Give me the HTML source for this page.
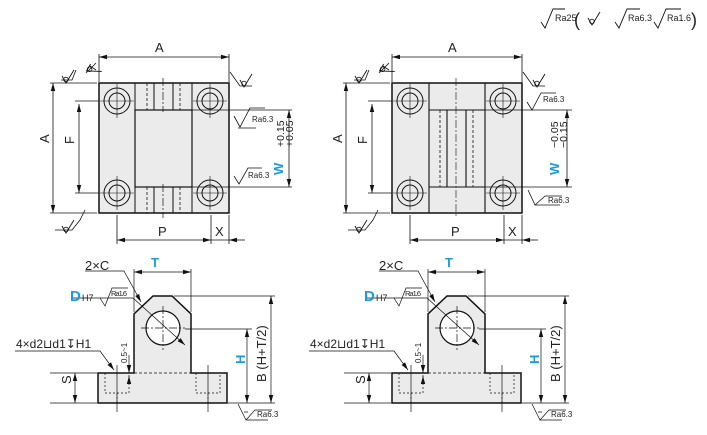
<!DOCTYPE html>
<html><head><meta charset="utf-8"><style>
html,body{margin:0;padding:0;background:#fff}
svg{display:block}
text{font-family:"Liberation Sans",sans-serif;fill:#222}
.t{font-size:13px}.s{font-size:9px}.b{fill:#1a9be0;font-weight:bold}
</style></head><body>
<svg width="707" height="435" viewBox="0 0 707 435" xmlns="http://www.w3.org/2000/svg" stroke-linecap="butt">
<defs>
<marker id="ar" markerWidth="8" markerHeight="6" refX="8" refY="3" orient="auto-start-reverse" markerUnits="userSpaceOnUse"><path d="M0,0.8 L8,3 L0,5.2z" fill="#111"/></marker>
<g id="rough"><path d="M0,0 L4,7 L12,-6" fill="none" stroke="#111" stroke-width="0.9"/><circle cx="4" cy="3.5" r="2.3" fill="none" stroke="#111" stroke-width="0.8"/></g>
</defs>

<g stroke="#111" stroke-width="0.9" fill="none">
<path d="M541,22 L545,28 L553,9 L565,9"/>
<path d="M615,22 L619,28 L627,9 L640,9"/>
<path d="M654,22 L658,28 L666,9 L681,9"/>
</g>
<use href="#rough" x="588" y="18"/>
<text x="555" y="21" class="s">Ra25</text>
<text x="574" y="26" style="font-size:18px">(</text>
<text x="628" y="21" class="s">Ra6.3</text>
<text x="667" y="21" class="s">Ra1.6</text>
<text x="691" y="26" style="font-size:18px">)</text>

<g id="tv">
<g stroke="#111" stroke-width="0.8" fill="none">
<line x1="99" y1="57" x2="229" y2="57" marker-start="url(#ar)" marker-end="url(#ar)"/>
<line x1="99" y1="82" x2="99" y2="54"/><line x1="229" y1="82" x2="229" y2="54"/>
<line x1="53" y1="83" x2="53" y2="213" marker-start="url(#ar)" marker-end="url(#ar)"/>
<line x1="50" y1="83" x2="97" y2="83"/><line x1="50" y1="213" x2="97" y2="213"/>
<line x1="79" y1="104" x2="79" y2="193" marker-start="url(#ar)" marker-end="url(#ar)"/>
<line x1="75" y1="101" x2="102" y2="101"/><line x1="75" y1="193" x2="102" y2="193"/>
<line x1="117" y1="240" x2="211" y2="240" marker-start="url(#ar)" marker-end="url(#ar)"/>
<line x1="117" y1="215" x2="117" y2="244"/><line x1="211" y1="215" x2="211" y2="244"/><line x1="229" y1="215" x2="229" y2="244"/>
<line x1="211" y1="240" x2="229" y2="240"/>
<line x1="229" y1="240" x2="245" y2="240" marker-start="url(#ar)"/>
</g>
<text x="155" y="52" class="t">A</text>
<text x="50" y="152" class="t" transform="rotate(-90 45 148)">A</text>
<text x="74" y="152" class="t" transform="rotate(-90 70 148)">F</text>
<text x="158" y="236" class="t">P</text>
<text x="215" y="236" class="t">X</text>
<g stroke="#111" stroke-width="0.8" fill="none">
<path d="M61,80 L72,80 L76,70"/><path d="M86,73 L96,63 M90,66 L96,70"/>
<path d="M230,72 L240,86 L252,86"/>
<path d="M55,230 L72,230 L80,220 L85,210"/>
</g>
<use href="#rough" x="62" y="76"/><use href="#rough" x="86" y="66" transform="rotate(60 90 69)"/>
<use href="#rough" x="240" y="80"/><use href="#rough" x="62" y="226"/>
</g>

<g stroke="#111" fill="#ebebeb">
<rect x="99" y="83" width="130" height="130" stroke-width="1.5"/>
<rect x="135" y="110" width="57" height="77" stroke-width="1.2" fill="#ebebeb"/>
<g stroke-width="1" fill="none">
<line x1="135" y1="83" x2="135" y2="213"/><line x1="192" y1="83" x2="192" y2="213"/>
<line x1="154" y1="83" x2="154" y2="110"/><line x1="173" y1="83" x2="173" y2="110"/>
<line x1="154" y1="187" x2="154" y2="213"/><line x1="173" y1="187" x2="173" y2="213"/>
<g stroke-dasharray="3,2" stroke-width="0.8"><line x1="147" y1="83" x2="147" y2="110"/><line x1="180" y1="83" x2="180" y2="110"/><line x1="147" y1="187" x2="147" y2="213"/><line x1="180" y1="187" x2="180" y2="213"/></g>
<g stroke-dasharray="8,2,2,2" stroke-width="0.7"><line x1="163" y1="78" x2="163" y2="112"/><line x1="163" y1="184" x2="163" y2="218"/></g>
</g>
</g>
<g stroke="#111" fill="none" stroke-width="1">
<circle cx="117" cy="101" r="13"/><circle cx="117" cy="101" r="8"/>
<circle cx="210" cy="101" r="13"/><circle cx="210" cy="101" r="8"/>
<circle cx="117" cy="193" r="13"/><circle cx="117" cy="193" r="8"/>
<circle cx="210" cy="193" r="13"/><circle cx="210" cy="193" r="8"/>
<g stroke-width="0.6"><path d="M100,101h34M117,84v34M193,101h34M210,84v34M100,193h34M117,176v34M193,193h34M210,176v34"/></g>
</g>
<g stroke="#111" stroke-width="0.8" fill="none">
<line x1="192" y1="110" x2="292" y2="110"/><line x1="192" y1="187" x2="292" y2="187"/>
<line x1="289" y1="110" x2="289" y2="187" marker-start="url(#ar)" marker-end="url(#ar)"/>
<path d="M234,116 L240,127 L250,108 L265,108"/><path d="M238,128 L256,128"/>
<path d="M234,176 L239,184 L248,168 L262,168"/>
</g>
<text x="252" y="122" style="font-size:8px">Ra6.3</text>
<text x="248" y="178" style="font-size:8px">Ra6.3</text>
<text x="283" y="175" class="t b" transform="rotate(-90 283 175)">W</text>
<text x="284" y="147" style="font-size:10.5px" transform="rotate(-90 284 147)">+0.15</text>
<text x="293" y="147" style="font-size:10.5px" transform="rotate(-90 293 147)">+0.05</text>

<use href="#tv" x="293"/>
<g stroke="#111" fill="#ebebeb">
<rect x="392" y="83" width="130" height="130" stroke-width="1.5"/>
<g stroke-width="1.1" fill="none">
<line x1="429" y1="83" x2="429" y2="213"/><line x1="485" y1="83" x2="485" y2="213"/>
<line x1="429" y1="110" x2="485" y2="110"/><line x1="429" y1="187" x2="485" y2="187"/>
<line x1="447" y1="110" x2="447" y2="187"/><line x1="466" y1="110" x2="466" y2="187"/>
<g stroke-dasharray="3,2" stroke-width="0.8"><line x1="440" y1="110" x2="440" y2="187"/><line x1="473" y1="110" x2="473" y2="187"/></g>
<line x1="456" y1="78" x2="456" y2="218" stroke-width="0.6" stroke-dasharray="8,2,2,2"/>
</g>
</g>
<g stroke="#111" fill="none" stroke-width="1">
<circle cx="410" cy="101" r="13"/><circle cx="410" cy="101" r="8"/>
<circle cx="503" cy="101" r="13"/><circle cx="503" cy="101" r="8"/>
<circle cx="410" cy="193" r="13"/><circle cx="410" cy="193" r="8"/>
<circle cx="503" cy="193" r="13"/><circle cx="503" cy="193" r="8"/>
<g stroke-width="0.6"><path d="M393,101h34M410,84v34M486,101h34M503,84v34M393,193h34M410,176v34M486,193h34M503,176v34"/></g>
</g>
<g stroke="#111" stroke-width="0.8" fill="none">
<line x1="485" y1="110" x2="572" y2="110"/><line x1="485" y1="187" x2="572" y2="187"/>
<line x1="567" y1="110" x2="567" y2="187" marker-start="url(#ar)" marker-end="url(#ar)"/>
<path d="M527,102 L532,110 L541,93 L556,93"/>
<path d="M528,190 L535,205 L545,196 L562,196"/><path d="M535,205 L560,205"/>
</g>
<text x="543" y="102" style="font-size:8px">Ra6.3</text>
<text x="548" y="203" style="font-size:8px">Ra6.3</text>
<text x="559" y="175" class="t b" transform="rotate(-90 559 175)">W</text>
<text x="558" y="148" style="font-size:10.5px" transform="rotate(-90 558 148)">−0.05</text>
<text x="567" y="148" style="font-size:10.5px" transform="rotate(-90 567 148)">−0.15</text>

<g id="sv">
<path d="M98,373 L134,373 L134,314 L153,296 L172,296 L191,314 L191,373 L227,373 L227,403 L98,403 Z" fill="#ebebeb" stroke="#111" stroke-width="1.5"/>
<circle cx="163" cy="328" r="17" fill="#fff" stroke="#111" stroke-width="1.2"/>
<g stroke="#111" stroke-width="0.7" fill="none">
<path d="M141,328 H185 M163,306 V350" stroke-dasharray="8,2,2,2"/>
<path d="M134,373 H191" stroke-dasharray="3,2"/>
<path d="M105,373 V393 H129 V373 M117,393 V403" stroke-dasharray="2,2"/>
<path d="M196,373 V393 H220 V373 M208,393 V403" stroke-dasharray="2,2"/>
<path d="M117,365 V412 M208,365 V412"/>
<line x1="134" y1="272" x2="191" y2="272" marker-start="url(#ar)" marker-end="url(#ar)"/>
<line x1="134" y1="269" x2="134" y2="312"/><line x1="191" y1="269" x2="191" y2="312"/>
<line x1="174" y1="296" x2="275" y2="296"/><line x1="185" y1="329" x2="252" y2="329"/>
<line x1="228" y1="403" x2="275" y2="403"/>
<line x1="271" y1="296" x2="271" y2="403" marker-start="url(#ar)" marker-end="url(#ar)"/>
<line x1="247" y1="329" x2="247" y2="403" marker-start="url(#ar)" marker-end="url(#ar)"/>
<line x1="50" y1="373" x2="97" y2="373"/><line x1="50" y1="403" x2="97" y2="403"/>
<line x1="75" y1="373" x2="75" y2="403" marker-start="url(#ar)" marker-end="url(#ar)"/>
<path d="M85,271 L124,271 L141,302" marker-end="url(#ar)"/>
<path d="M72,298 L133,298 L185,345" marker-end="url(#ar)"/>
<path d="M100,298 L105,306 L112,288 L128,288"/>
<path d="M15,351 L100,351 L114,370" marker-end="url(#ar)"/>
<line x1="129" y1="355" x2="129" y2="373" marker-end="url(#ar)"/>
<line x1="129" y1="384" x2="129" y2="376" marker-end="url(#ar)"/>
<path d="M238,404 L246,420 L255,410 L272,410 M246,420 L268,420 M244,412 L248,412"/>
</g>
<text x="85" y="270" class="t">2×C</text>
<text x="151" y="267" class="t b">T</text>
<text x="70" y="301" style="font-size:15px" class="b">D</text>
<text x="82" y="301" style="font-size:9px">H7</text>
<text x="111" y="296" style="font-size:7.5px" textLength="16">Ra1.6</text>
<text x="16" y="348" style="font-size:12px">4×d2⊔d1↧H1</text>
<text x="127" y="363" style="font-size:8px" transform="rotate(-90 127 363)">0.5~1</text>
<text x="70" y="393" class="t" transform="rotate(-90 66 388)">S</text>
<text x="245" y="372" class="t b" transform="rotate(-90 241 368)">H</text>
<text x="266" y="382" style="font-size:13px" transform="rotate(-90 266 382)">B (H+T/2)</text>
<text x="257" y="417" style="font-size:8px">Ra6.3</text>
</g>
<use href="#sv" x="294"/>
</svg>
</body></html>
